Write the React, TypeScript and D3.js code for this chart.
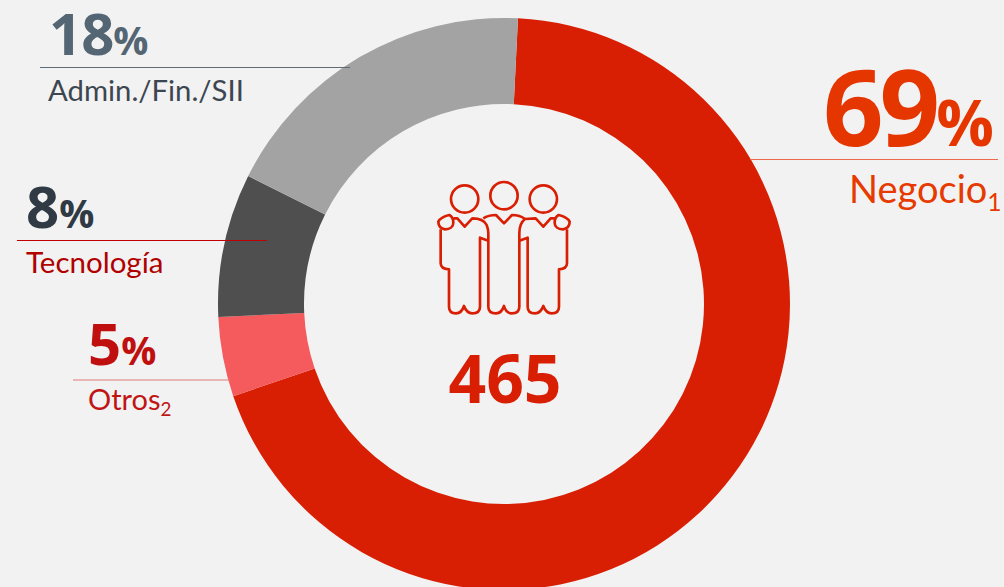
import React from "react";
import * as d3 from "d3";

const sliceNames = ["Negocio", "Otros", "Tecnología", "Admin./Fin./SII"];
const sliceValues = [69.0, 4.5, 8.1, 18.4];
const sliceColors = ["#d91f03", "#f55a5c", "#4f4f4f", "#a3a3a3"];
const totalLabel = "465";

const W = 1004, H = 587;
const cx = 504, cy = 304, outerR = 286, innerR = 200;
const startDeg = 2.8;

const callouts = [
  { num: "69", size: 106, spacing: -4, pctSize: 64, x: 823, y: 146, numColor: "#e63600", label: "Negocio", sub: "1", lsize: 38, lx: 849, ly: 203, lColor: "#e63a00", line: [750, 998, 159.5], lineColor: "#ee6a4c" },
  { num: "18", size: 58, spacing: -1, pctSize: 39, x: 49, y: 55, numColor: "#546673", label: "Admin./Fin./SII", sub: "", lsize: 29.3, lx: 48, ly: 101, lColor: "#3c4650", line: [40, 350, 67.5], lineColor: "#5f6b75" },
  { num: "8", size: 58, spacing: 0, pctSize: 39, x: 26, y: 228, numColor: "#2f3a44", label: "Tecnología", sub: "", lsize: 29.5, lx: 26, ly: 273, lColor: "#b00000", line: [17, 267, 240.5], lineColor: "#c00000" },
  { num: "5", size: 58, spacing: 0, pctSize: 39, x: 88, y: 365, numColor: "#c00f0f", label: "Otros", sub: "2", lsize: 29, lx: 88, ly: 410, lColor: "#c01515", line: [73, 230, 380], lineColor: "#e07a7a" },
];

const bodyPaths = [
  "M75,178 C60,175 55,165 55,155 C60,145 75,138 88,135 C98,140 100,150 100,158 C100,170 90,178 75,178 Z",
  "M62,178 L62,280 Q62,297 87,298 L87,410 Q87,430 108,430 Q125,430 132,408 Q140,430 157,430 Q180,430 180,410 L180,203 L205,212",
  "M100,145 L112,145 L134,170 L157,145 Q190,145 200,165 Q205,178 205,190 L205,410 Q205,430 228,430 Q245,430 252,408 Q258,430 275,430 Q298,430 298,410 L298,190 Q298,160 315,147 L347,145 L370,170 L392,145 L405,145",
  "M190,145 Q205,135 228,135 L252,160 L276,135 Q300,135 315,147",
  "M298,212 L323,203 L323,410 Q323,430 345,430 Q362,430 370,408 Q378,430 395,430 Q417,430 417,410 L417,298 Q441,297 441,280 L441,178",
  "M429,178 C444,175 449,165 449,155 C444,145 429,138 416,135 C406,140 404,150 404,158 C404,170 414,178 429,178 Z",
];
const heads = [[134, 87], [252, 77], [370, 87]];

const FONT = "Lato, sans-serif";
const NUMFONT = "'Open Sans', sans-serif";

export default function App() {
  const pie = d3.pie<number>().sort(null)
    .startAngle((startDeg * Math.PI) / 180)
    .endAngle(((startDeg + 360) * Math.PI) / 180);
  const arc = d3.arc<d3.PieArcDatum<number>>().innerRadius(innerR).outerRadius(outerR);
  const arcs = pie(sliceValues);
  return (
    <svg width={W} height={H} viewBox={`0 0 ${W} ${H}`} style={{ position: "absolute", left: 0, top: 0, display: "block" }} fontFamily={FONT}>
      <rect width={W} height={H} fill="#f2f2f2" />
      <g transform={`translate(${cx},${cy})`}>
        {arcs.map((a, i) => (
          <path key={sliceNames[i]} d={arc(a) as string} fill={sliceColors[i]} />
        ))}
      </g>
      <g transform="translate(420,170) scale(0.3333)" fill="none" stroke="#d91f03" strokeWidth={8} strokeLinejoin="round">
        {heads.map(([x, y]) => <circle key={x} cx={x} cy={y} r={41} />)}
        {bodyPaths.map((d, i) => <path key={i} d={d} />)}
      </g>
      <text x={505} y={403} textAnchor="middle" fontFamily={NUMFONT} fontWeight={700} fontSize={66} fill="#d91f03">{totalLabel}</text>
      {callouts.map((c) => (
        <g key={c.label}>
          <line x1={c.line[0]} x2={c.line[1]} y1={c.line[2]} y2={c.line[2]} stroke={c.lineColor} strokeWidth={1} />
          <text x={c.x} y={c.y} fontFamily={NUMFONT} fontWeight={700} fontSize={c.size} fill={c.numColor}>
            <tspan letterSpacing={c.spacing}>{c.num}</tspan><tspan fontSize={c.pctSize}>%</tspan>
          </text>
          <text x={c.lx} y={c.ly} fontSize={c.lsize} fill={c.lColor}>
            {c.label}
            {c.sub && <tspan fontSize={c.lsize * 0.65} dy={c.lsize * 0.22}>{c.sub}</tspan>}
          </text>
        </g>
      ))}
    </svg>
  );
}
